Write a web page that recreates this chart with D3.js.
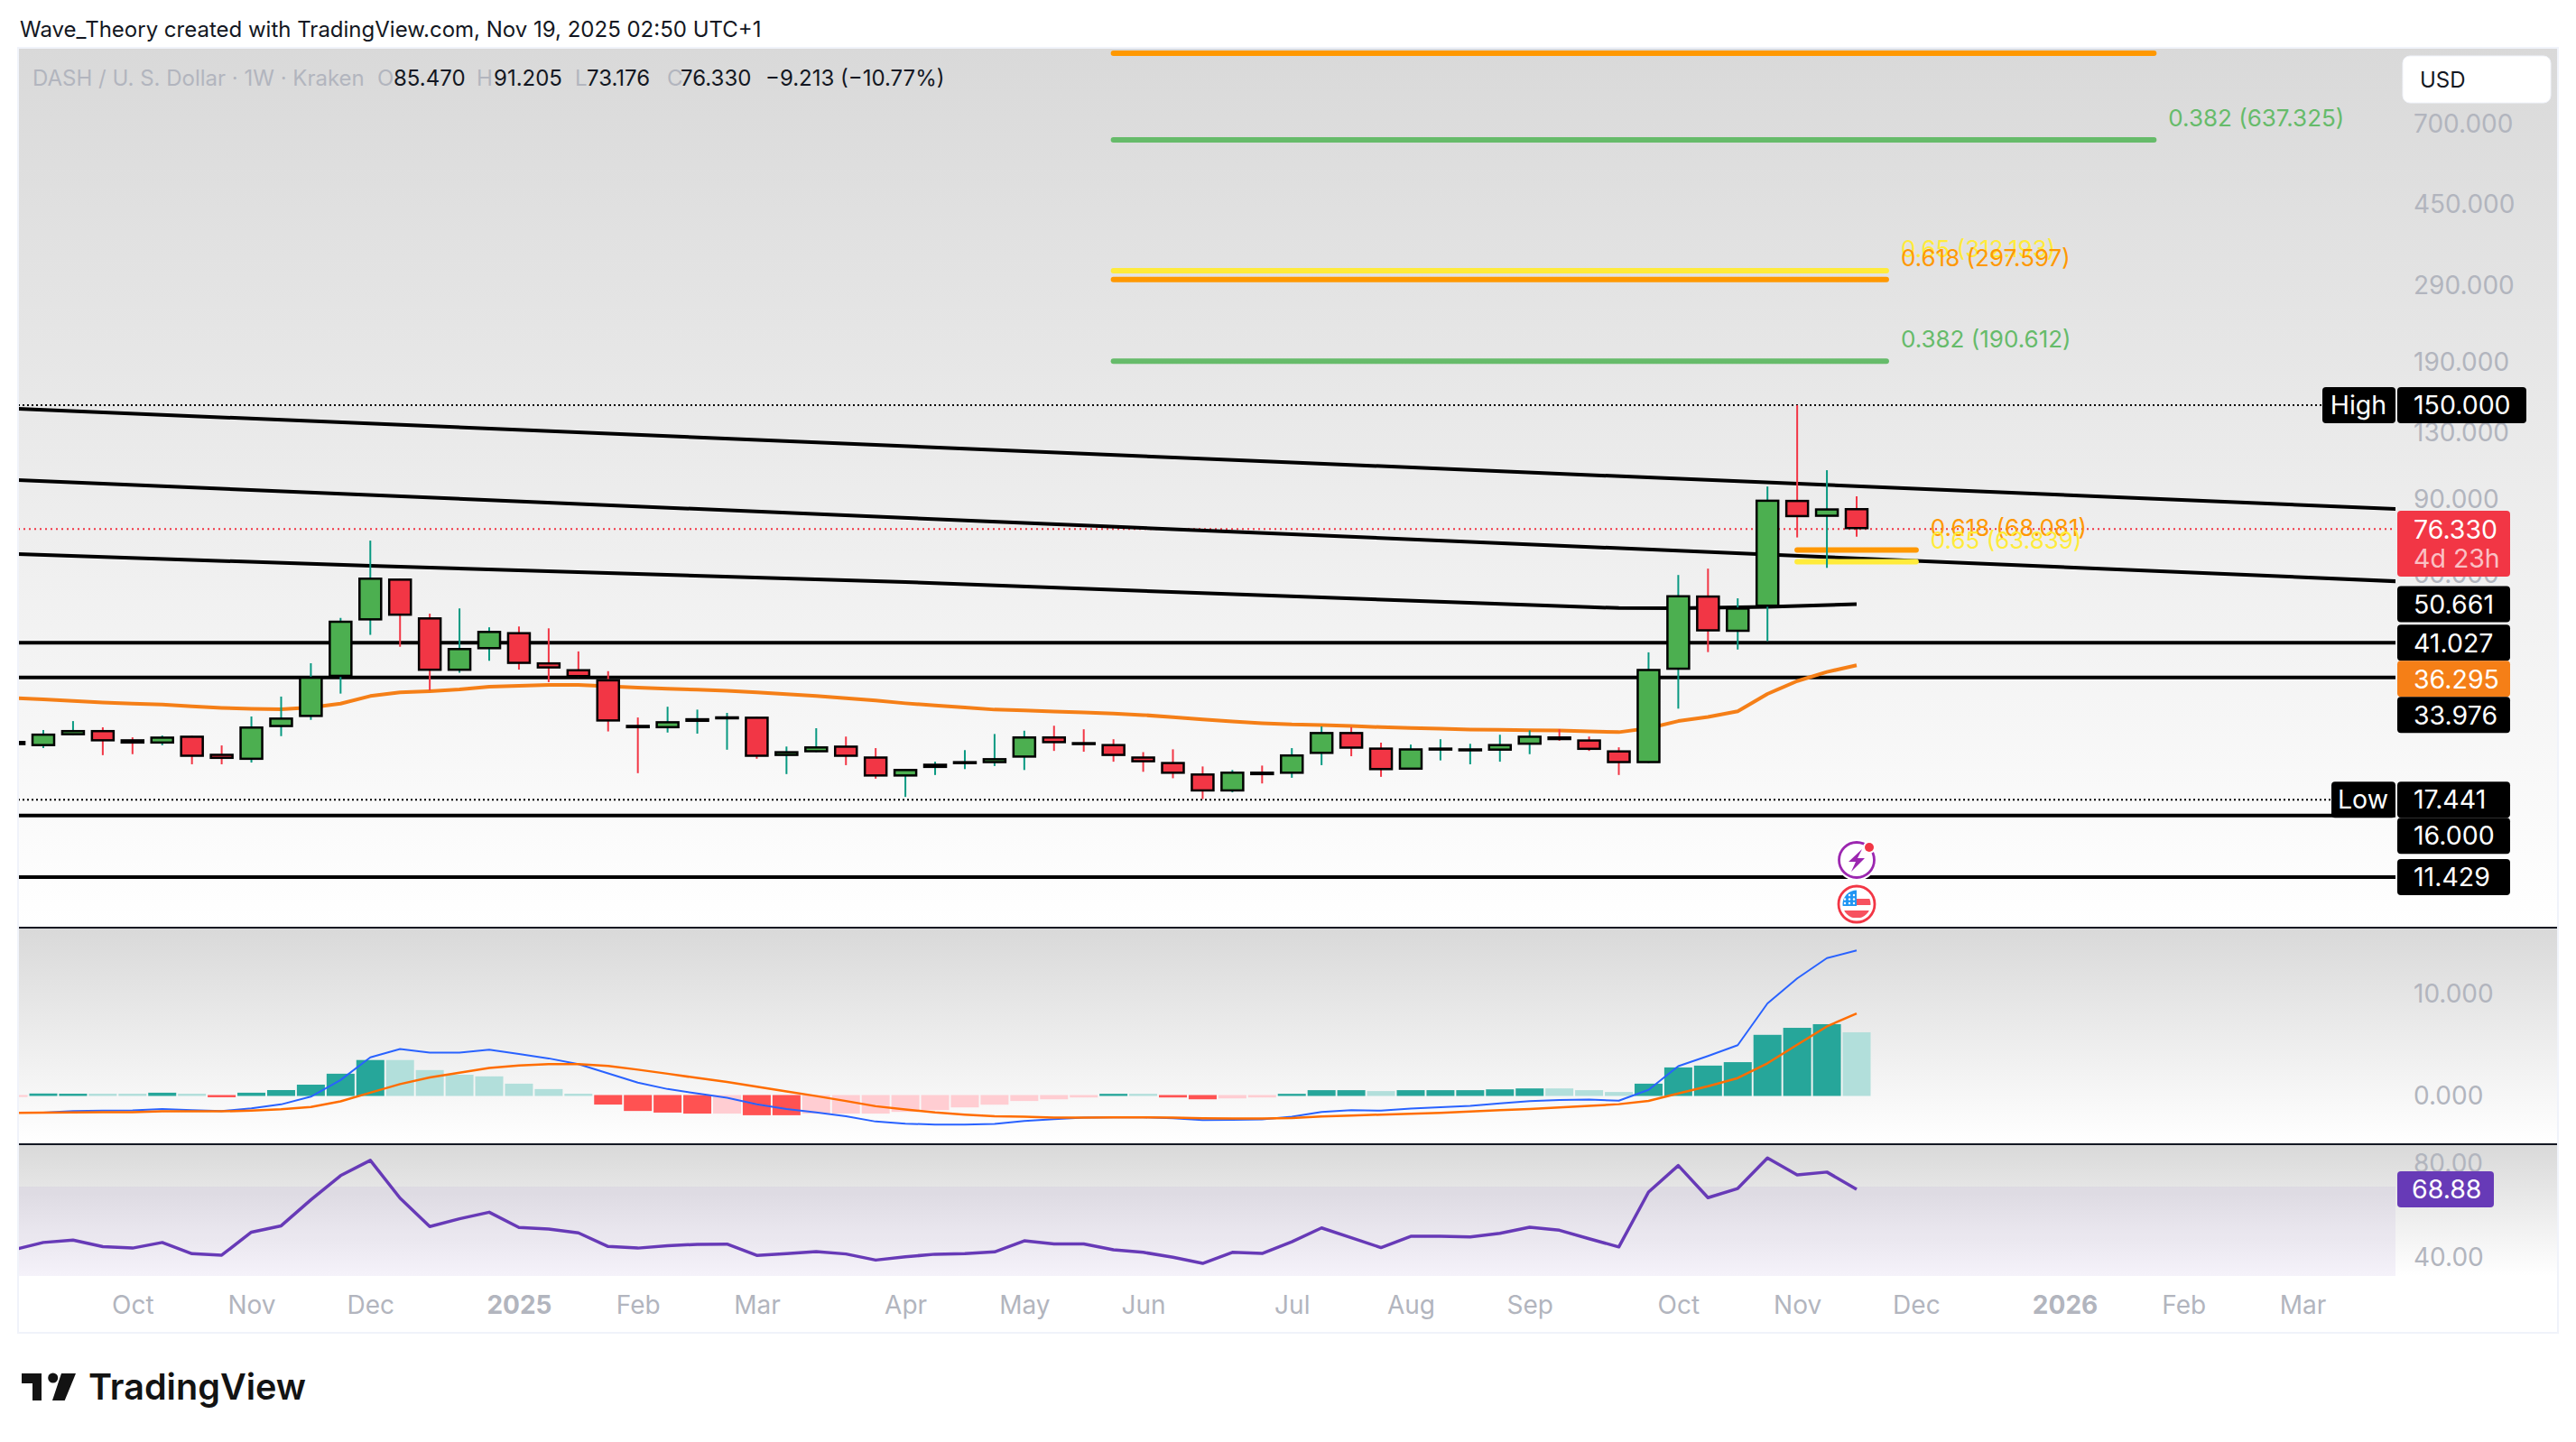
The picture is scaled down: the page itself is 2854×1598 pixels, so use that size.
<!DOCTYPE html>
<html>
<head>
<meta charset="utf-8">
<script src="https://cdn.jsdelivr.net/npm/d3@7/dist/d3.min.js"></script>
<style>
  html, body { margin: 0; padding: 0; background: #fff; }
  svg { display: block; }
</style>
</head>
<body>
<div id="chart"></div>
<script>
// weekly bars, first bar is index -1 (cut off by the left edge of the pane)
const opens = [24.0,23.37,24.8,25.47,24.22,23.7,24.7,22.38,21.69,25.93,27.4,34.1,46.4,58.2,47.1,35.25,39.65,43.45,36.85,35.5,33.6,26.2,25.77,26.68,27.17,27.4,22.15,22.6,23.4,22.05,19.8,20.75,21.35,21.3,21.95,24.6,23.85,23.6,22.05,21.4,20.1,18.25,20.3,20.1,22.4,25.2,23.15,20.55,23.0,22.9,22.8,23.55,24.6,24.2,22.8,21.3,35.45,53.07,43.6,50.0,89.4,81.65,85.47];
const highs = [24.0,25.5,26.77,25.88,24.5,24.74,24.7,23.44,27.45,30.6,36.7,47.0,71.65,58.2,48.1,49.5,44.65,44.85,44.4,39.15,35.15,27.3,28.95,28.5,28.0,27.4,23.3,25.75,24.6,23.1,20.6,21.45,22.85,24.95,25.4,26.1,25.6,24.25,22.6,22.95,20.9,20.5,21.0,23.1,26.0,25.9,23.8,23.55,24.25,23.65,24.85,25.45,25.6,24.6,23.2,38.95,59.4,61.5,52.3,96.25,150.0,105.2,91.205];
const lows = [23.5,23.1,24.8,22.23,22.35,23.47,21.15,21.15,21.35,24.66,26.95,31.1,42.85,40.15,31.65,34.85,37.2,35.45,33.1,34.05,25.3,20.15,25.15,25.0,22.9,21.8,20.05,22.6,21.05,19.55,17.7,19.95,20.6,20.95,20.5,22.75,22.65,21.45,20.3,19.6,17.5,18.15,19.05,19.65,21.05,22.1,19.75,20.55,21.6,21.15,21.45,22.35,24.05,22.75,19.95,21.3,28.65,39.0,39.55,41.4,72.9,61.75,73.176];
const closes = [23.5,24.98,25.47,23.99,23.7,24.58,22.05,21.8,25.97,27.27,34.07,46.25,58.5,47.6,35.25,39.85,43.75,36.6,35.7,34.05,26.73,25.77,26.73,27.17,27.45,22.05,22.7,23.3,22.05,19.8,20.6,21.2,21.5,21.85,24.6,23.75,23.7,22.15,21.4,20.1,18.25,20.3,19.95,22.3,25.2,23.05,20.5,23.05,23.15,23.05,23.6,24.7,24.15,22.9,21.3,35.55,53.15,43.7,49.7,89.5,81.5,85.35,76.33];
const emaLine = [30.36,30.13,29.88,29.64,29.44,29.3,29.01,28.78,28.64,28.54,28.82,29.44,30.69,31.3,31.5,31.81,32.28,32.44,32.6,32.6,32.39,32.12,31.92,31.76,31.6,31.3,31.0,30.69,30.34,29.94,29.5,29.15,28.82,28.5,28.36,28.22,28.08,27.89,27.67,27.35,27.0,26.73,26.47,26.29,26.21,26.08,25.9,25.77,25.7,25.57,25.52,25.48,25.44,25.32,25.2,25.74,26.77,27.38,28.25,31.05,33.3,35.0,36.295];

// long moving average, read at a few bars: [bar, value]
const slowLine = [[-1,66.6],[11,62.45],[29,57.15],[43,52.55],[52,49.83],[53,49.6],[55,49.55],[58,49.9],[61,50.661]];
// falling trendlines: [bar, value] at each end
const trendUpper = [[-0.85,147.1],[79.14,85.15]];
const trendLower = [[-0.85,99.7],[79.14,57.4]];
const supports = [41.027,33.976,16.0,11.429];

// fib zones: value, label, first bar, last bar, colour
const fibLevels = [
  { value: 1023, label: "", from: 36, to: 71, color: "#ff9800" },
  { value: 637.325, label: "0.382 (637.325)", from: 36, to: 71, color: "#66bb6a" },
  { value: 312.193, label: "0.65 (312.193)", from: 36, to: 62, color: "#ffeb3b" },
  { value: 297.597, label: "0.618 (297.597)", from: 36, to: 62, color: "#ff9800" },
  { value: 190.612, label: "0.382 (190.612)", from: 36, to: 62, color: "#66bb6a" },
  { value: 68.081, label: "0.618 (68.081)", from: 59, to: 63, color: "#ff9800" },
  { value: 63.839, label: "0.65 (63.839)", from: 59, to: 63, color: "#ffeb3b" }
];

const macdHist = [-0.1,0.15,0.13,0.13,0.13,0.23,0.13,-0.13,0.23,0.49,1.02,2.1,3.45,3.45,2.46,2.0,1.84,1.12,0.59,0.13,-0.85,-1.48,-1.64,-1.74,-1.74,-1.9,-1.9,-1.74,-1.74,-1.74,-1.57,-1.4,-1.13,-0.86,-0.5,-0.33,-0.15,0.12,0.12,-0.15,-0.33,-0.24,-0.15,0.12,0.48,0.48,0.39,0.48,0.48,0.48,0.56,0.65,0.65,0.48,0.3,1.12,2.72,2.9,3.24,5.93,6.62,6.98,6.18];
// 1 = darker bar (momentum growing), 0 = pale bar
const histStrong = [0,1,1,0,0,1,0,1,1,1,1,1,1,0,0,0,0,0,0,0,1,1,1,1,0,1,1,0,0,0,0,0,0,0,0,0,0,1,0,1,1,0,0,1,1,1,0,1,1,1,1,1,0,0,0,1,1,1,1,1,1,1,0];
const macdLine = [-1.74,-1.74,-1.58,-1.54,-1.51,-1.38,-1.48,-1.58,-1.31,-0.92,-0.16,1.48,3.71,4.53,4.17,4.17,4.47,4.04,3.61,3.05,2.14,1.22,0.59,0.16,-0.26,-0.92,-1.38,-1.71,-2.08,-2.61,-2.82,-2.91,-2.91,-2.85,-2.55,-2.38,-2.23,-2.2,-2.2,-2.29,-2.47,-2.44,-2.41,-2.14,-1.66,-1.49,-1.54,-1.34,-1.19,-1.07,-0.83,-0.59,-0.48,-0.45,-0.56,0.51,2.84,3.85,4.91,9.02,11.49,13.49,14.25];
const signalLine = [-1.77,-1.74,-1.71,-1.68,-1.68,-1.61,-1.61,-1.61,-1.54,-1.41,-1.18,-0.62,0.23,1.08,1.74,2.2,2.66,2.92,3.05,3.05,2.86,2.5,2.1,1.68,1.28,0.82,0.36,-0.1,-0.59,-1.1,-1.43,-1.72,-1.93,-2.08,-2.14,-2.23,-2.23,-2.2,-2.2,-2.23,-2.29,-2.32,-2.32,-2.26,-2.11,-2.02,-1.93,-1.84,-1.75,-1.63,-1.49,-1.37,-1.22,-1.07,-0.9,-0.58,0.15,0.87,1.67,3.13,4.95,6.76,8.04];
const rsiLine = [43.1,46.2,47.2,44.4,43.8,46.2,41.4,40.8,50.6,53.3,64.4,74.7,81.2,65.1,53.0,56.3,59.1,52.6,51.9,50.3,44.5,43.8,44.8,45.4,45.5,40.7,41.4,42.3,41.3,38.7,40.1,41.2,41.4,42.2,46.9,45.6,45.6,43.1,42.0,39.9,37.3,42.0,41.5,46.5,52.4,48.2,44.0,48.8,48.8,48.6,50.1,52.7,51.4,47.8,44.3,67.7,79.0,65.3,69.2,82.2,75.0,76.2,68.88];

const priceTicks = [700,450,290,190,130,90,60];
const macdTicks = [10,0];
const rsiTicks = [80,40];
const timeTickBars = [3,7,11,16,20,24,29,33,37,42,46,50,55,59,63,68,72,76];
const timeTickLabels = ["Oct","Nov","Dec","2025","Feb","Mar","Apr","May","Jun","Jul","Aug","Sep","Oct","Nov","Dec","2026","Feb","Mar"];

const font = "Inter, 'Noto Sans', sans-serif";
const axisSize = 28, tagSize = 28.5, fibSize = 26, headSize = 24;
const W = 2854, H = 1598;
const left = 20, plotRight = 2654, right = 2834;
const panes = {
  price: { top: 53, bottom: 1027 },
  macd: { top: 1029, bottom: 1267 },
  rsi: { top: 1269, bottom: 1414 }
};

const svg = d3.select("#chart").append("svg").attr("width", W).attr("height", H)
  .style("font-family", font);
const defs = svg.append("defs");

// same grey fade on every pane
Object.keys(panes).forEach(k => {
  const g = defs.append("linearGradient").attr("id", "bg-" + k).attr("x1", 0).attr("x2", 0).attr("y1", 0).attr("y2", 1);
  g.append("stop").attr("offset", 0).attr("stop-color", "#d9d9d9");
  g.append("stop").attr("offset", 1).attr("stop-color", "#ffffff");
  svg.append("rect").attr("x", left).attr("y", panes[k].top)
    .attr("width", right - left).attr("height", panes[k].bottom - panes[k].top)
    .attr("fill", `url(#bg-${k})`);
  defs.append("clipPath").attr("id", "clip-" + k).append("rect")
    .attr("x", left).attr("y", panes[k].top)
    .attr("width", plotRight - left).attr("height", panes[k].bottom - panes[k].top);
});

const x = d3.scaleLinear().domain([0, 61]).range([48, 2057]);
const yPrice = d3.scaleLog().domain([11.429, 150]).range([972, 449]);
const yMacd = d3.scaleLinear().domain([0, 10]).range([1213.5, 1101]);
const yRsi = d3.scaleLinear().domain([40, 80]).range([1393, 1289]);
const bars = d3.range(-1, 62);
const barOf = i => i + 1;

// ---------- price pane
const price = svg.append("g").attr("clip-path", "url(#clip-price)");

const hLine = (g, v, color, width, dash, xEnd) => g.append("line")
  .attr("x1", left).attr("x2", xEnd || plotRight)
  .attr("y1", yPrice(v)).attr("y2", yPrice(v))
  .attr("stroke", color).attr("stroke-width", width)
  .attr("stroke-dasharray", dash || null);

hLine(price, 150, "#000", 2, "2 3", 2580);
hLine(price, 17.441, "#000", 2, "2 3", 2590);
hLine(price, 76.33, "#f23645", 2, "2 4");
supports.forEach(v => hLine(price, v, "#000", 4));

const priceLine = d3.line().x(d => x(d[0])).y(d => yPrice(d[1]));
[trendUpper, trendLower, slowLine].forEach(pts => {
  price.append("path").attr("d", priceLine(pts)).attr("fill", "none")
    .attr("stroke", "#000").attr("stroke-width", 4);
});

price.append("path")
  .attr("d", d3.line().x(d => x(d)).y(d => yPrice(emaLine[barOf(d)]))(bars))
  .attr("fill", "none").attr("stroke", "#f57f17").attr("stroke-width", 4).attr("stroke-linejoin", "round");

fibLevels.forEach(f => {
  price.append("line")
    .attr("x1", x(f.from)).attr("x2", x(f.to))
    .attr("y1", yPrice(f.value)).attr("y2", yPrice(f.value))
    .attr("stroke", f.color).attr("stroke-width", 6).attr("stroke-linecap", "round");
  if (f.label) {
    price.append("text").attr("x", x(f.to) + 16).attr("y", yPrice(f.value) - 15)
      .attr("font-size", fibSize).attr("fill", f.color).text(f.label);
  }
});

const upWick = "#089981", downWick = "#f23645";
const upBody = "#4caf50", downBody = "#f23645";
const isUp = i => closes[barOf(i)] >= opens[barOf(i)];

price.selectAll("line.wick").data(bars).enter().append("line").attr("class", "wick")
  .attr("x1", d => x(d)).attr("x2", d => x(d))
  .attr("y1", d => yPrice(highs[barOf(d)])).attr("y2", d => yPrice(lows[barOf(d)]))
  .attr("stroke", d => isUp(d) ? upWick : downWick).attr("stroke-width", 2);

price.selectAll("rect.body").data(bars).enter().append("rect").attr("class", "body")
  .attr("x", d => x(d) - 12)
  .attr("width", 24)
  .attr("y", d => yPrice(Math.max(opens[barOf(d)], closes[barOf(d)])) + 1)
  .attr("height", d => Math.max(1, yPrice(Math.min(opens[barOf(d)], closes[barOf(d)])) - yPrice(Math.max(opens[barOf(d)], closes[barOf(d)])) - 2))
  .attr("fill", d => isUp(d) ? upBody : downBody)
  .attr("stroke", "#000").attr("stroke-width", 2.5);

// event markers under the last bar
const ex = x(61);
const events = svg.append("g");
events.append("circle").attr("cx", ex).attr("cy", 953).attr("r", 23).attr("fill", "#fff");
events.append("circle").attr("cx", ex).attr("cy", 953).attr("r", 19.5).attr("fill", "#fff")
  .attr("stroke", "#9c27b0").attr("stroke-width", 2.8);
events.append("path").attr("fill", "#9c27b0")
  .attr("d", `M${ex + 6},${941} L${ex - 9},${955} L${ex - 1},${955} L${ex - 6},${966} L${ex + 9},${951} L${ex + 1},${951} Z`);
events.append("circle").attr("cx", ex + 14).attr("cy", 939).attr("r", 7).attr("fill", "#fff");
events.append("circle").attr("cx", ex + 14).attr("cy", 939).attr("r", 5).attr("fill", "#f23645");

events.append("circle").attr("cx", ex).attr("cy", 1002).attr("r", 23).attr("fill", "#fff");
events.append("circle").attr("cx", ex).attr("cy", 1002).attr("r", 20).attr("fill", "#fff")
  .attr("stroke", "#f23645").attr("stroke-width", 2.8);
defs.append("clipPath").attr("id", "clip-flag").append("circle").attr("cx", ex).attr("cy", 1002).attr("r", 15.5);
const flag = events.append("g").attr("clip-path", "url(#clip-flag)");
flag.append("rect").attr("x", ex - 16).attr("y", 1004).attr("width", 32).attr("height", 14).attr("fill", "#fff");
flag.append("rect").attr("x", ex - 16).attr("y", 1009).attr("width", 32).attr("height", 8).attr("fill", "#f7525f");
flag.append("rect").attr("x", ex).attr("y", 990).attr("width", 16).attr("height", 7).attr("fill", "#fff");
flag.append("rect").attr("x", ex).attr("y", 996).attr("width", 16).attr("height", 7).attr("fill", "#f7525f");
flag.append("rect").attr("x", ex - 16).attr("y", 986).attr("width", 16).attr("height", 18).attr("fill", "#2196f3");
d3.range(3).forEach(r => d3.range(3).forEach(c => {
  flag.append("circle").attr("cx", ex - 13 + c * 5).attr("cy", 992 + r * 4.5).attr("r", 1.2).attr("fill", "#fff");
}));

// ---------- macd pane
const macd = svg.append("g").attr("clip-path", "url(#clip-macd)");
const histColor = i => {
  const pos = macdHist[barOf(i)] >= 0, strong = histStrong[barOf(i)] === 1;
  if (pos) return strong ? "#26a69a" : "#b2dfdb";
  return strong ? "#ff5252" : "#ffcdd2";
};
macd.selectAll("rect").data(bars).enter().append("rect")
  .attr("x", d => x(d) - 15.5).attr("width", 31)
  .attr("y", d => Math.min(yMacd(macdHist[barOf(d)]), yMacd(0)))
  .attr("height", d => Math.abs(yMacd(macdHist[barOf(d)]) - yMacd(0)) + 1)
  .attr("fill", histColor);

const seriesLine = (g, values, yScale, color, width) => g.append("path")
  .attr("d", d3.line().x(d => x(d)).y(d => yScale(values[barOf(d)]))(bars))
  .attr("fill", "none").attr("stroke", color).attr("stroke-width", width).attr("stroke-linejoin", "round");

seriesLine(macd, macdLine, yMacd, "#2962ff", 2);
seriesLine(macd, signalLine, yMacd, "#ff6d00", 2.5);

// ---------- rsi pane
const rsi = svg.append("g").attr("clip-path", "url(#clip-rsi)");
rsi.append("rect").attr("x", left).attr("width", plotRight - left)
  .attr("y", yRsi(70)).attr("height", panes.rsi.bottom - yRsi(70))
  .attr("fill", "#7e57c2").attr("fill-opacity", 0.08);
seriesLine(rsi, rsiLine, yRsi, "#673ab7", 3.5);

// ---------- frame
[panes.macd.top - 1, panes.rsi.top - 1].forEach(y => {
  svg.append("line").attr("x1", left).attr("x2", right).attr("y1", y).attr("y2", y)
    .attr("stroke", "#131722").attr("stroke-width", 2);
});
svg.append("rect").attr("x", left).attr("y", 53).attr("width", right - left).attr("height", 1424)
  .attr("fill", "none").attr("stroke", "#f0f3fa").attr("stroke-width", 2);

// ---------- axes
const axisStyle = g => {
  g.select(".domain").remove();
  g.attr("font-family", font).attr("font-size", axisSize);
  g.selectAll("text").attr("fill", "#b2b5be");
};
svg.append("g").attr("transform", "translate(2674,1)")
  .call(d3.axisRight(yPrice).tickValues(priceTicks).tickFormat(d3.format(".3f")).tickSize(0).tickPadding(0))
  .call(axisStyle);
svg.append("g").attr("transform", "translate(2674,1)")
  .call(d3.axisRight(yMacd).tickValues(macdTicks).tickFormat(d3.format(".3f")).tickSize(0).tickPadding(0))
  .call(axisStyle);
svg.append("g").attr("transform", "translate(2674,1)")
  .call(d3.axisRight(yRsi).tickValues(rsiTicks).tickFormat(d3.format(".2f")).tickSize(0).tickPadding(0))
  .call(axisStyle);
svg.append("g").attr("transform", "translate(0,1436)")
  .call(d3.axisBottom(x).tickValues(timeTickBars).tickFormat((d, i) => timeTickLabels[i]).tickSize(0).tickPadding(0))
  .call(axisStyle)
  .call(g => g.selectAll("text").attr("font-weight", (d, i) => /^20/.test(timeTickLabels[i]) ? 700 : 400));

// ---------- price tags (the stacked ones are pushed apart like on the original)
const tag = (x0, x1, yc, color, label, textColor) => {
  svg.append("rect").attr("x", x0).attr("y", yc - 20).attr("width", x1 - x0).attr("height", 40)
    .attr("rx", 4).attr("fill", color);
  if (label) svg.append("text").attr("x", x0 + 18).attr("y", yc).attr("dy", "0.36em")
    .attr("font-size", tagSize).attr("fill", textColor || "#fff").text(label);
};
tag(2573, 2654, yPrice(150), "#000", "");
svg.append("text").attr("x", 2613).attr("y", yPrice(150)).attr("dy", "0.36em").attr("text-anchor", "middle")
  .attr("font-size", tagSize).attr("fill", "#fff").text("High");
tag(2656, 2799, yPrice(150), "#000", "150.000");

svg.append("rect").attr("x", 2656).attr("y", 566).attr("width", 125).attr("height", 73).attr("rx", 4).attr("fill", "#f23645");
svg.append("text").attr("x", 2674).attr("y", yPrice(76.33)).attr("dy", "0.36em").attr("font-size", tagSize).attr("fill", "#fff").text("76.330");
svg.append("text").attr("x", 2674).attr("y", 619).attr("dy", "0.36em").attr("font-size", tagSize).attr("fill", "#fff").attr("fill-opacity", 0.7).text("4d 23h");

tag(2656, 2781, yPrice(50.661), "#000", "50.661");
tag(2656, 2781, yPrice(41.027), "#000", "41.027");
tag(2656, 2781, yPrice(41.027) + 40, "#f57f17", "36.295");
tag(2656, 2781, yPrice(41.027) + 80, "#000", "33.976");
tag(2583, 2654, yPrice(17.441), "#000", "");
svg.append("text").attr("x", 2618).attr("y", yPrice(17.441)).attr("dy", "0.36em").attr("text-anchor", "middle")
  .attr("font-size", tagSize).attr("fill", "#fff").text("Low");
tag(2656, 2781, yPrice(17.441), "#000", "17.441");
tag(2656, 2781, yPrice(17.441) + 40, "#000", "16.000");
tag(2656, 2781, yPrice(11.429), "#000", "11.429");

svg.append("rect").attr("x", 2656).attr("y", 1298).attr("width", 107).attr("height", 40).attr("rx", 4).attr("fill", "#673ab7");
svg.append("text").attr("x", 2672).attr("y", yRsi(68.88)).attr("dy", "0.36em").attr("font-size", tagSize).attr("fill", "#fff").text("68.88");

// ---------- header, legend, logo
svg.append("text").attr("x", 22).attr("y", 32).attr("dy", "0.36em").attr("font-size", headSize).attr("fill", "#131722")
  .text("Wave_Theory created with TradingView.com, Nov 19, 2025 02:50 UTC+1");

const legend = [
  [36, "DASH / U. S. Dollar · 1W · Kraken", "#b2b5be"],
  [418, "O", "#b2b5be"], [436, "85.470", "#131722"],
  [528, "H", "#b2b5be"], [547, "91.205", "#131722"],
  [637, "L", "#b2b5be"], [650, "73.176", "#131722"],
  [739, "C", "#b2b5be"], [754, "76.330", "#131722"],
  [848, "−9.213 (−10.77%)", "#131722"]
];
legend.forEach(d => {
  svg.append("text").attr("x", d[0]).attr("y", 86).attr("dy", "0.36em").attr("font-size", headSize).attr("fill", d[2]).text(d[1]);
});

svg.append("rect").attr("x", 2662).attr("y", 62).attr("width", 164).attr("height", 52).attr("rx", 8)
  .attr("fill", "#fff").attr("stroke", "#f0f3fa");
svg.append("text").attr("x", 2681).attr("y", 88).attr("dy", "0.36em").attr("font-size", headSize).attr("fill", "#131722").text("USD");

const logo = svg.append("g").attr("fill", "#131313");
logo.append("path").attr("d", "M24,1522 H46 V1552 H36 V1533 H24 Z");
logo.append("circle").attr("cx", 58.7).attr("cy", 1527).attr("r", 5.5);
logo.append("path").attr("d", "M68,1522 H84 L71.7,1552 H58 Z");
logo.append("text").attr("x", 98).attr("y", 1551).attr("font-size", 40).attr("font-weight", 600)
  .attr("font-family", "Inter, sans-serif").attr("textLength", 241).attr("lengthAdjust", "spacingAndGlyphs").text("TradingView");
</script>
</body>
</html>
